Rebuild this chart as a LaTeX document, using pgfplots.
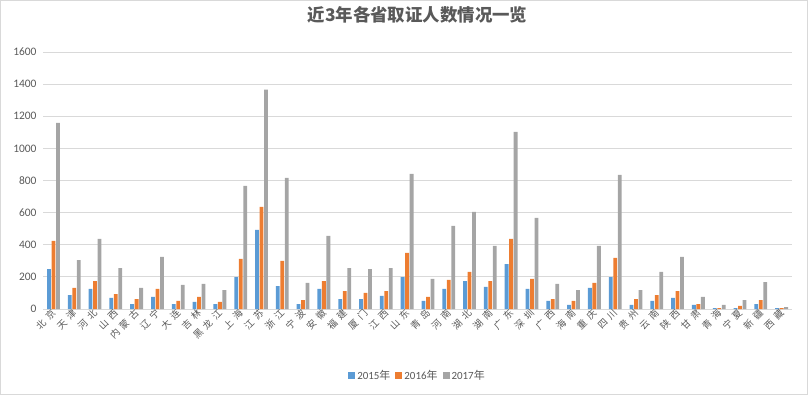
\documentclass[border=0pt]{standalone}
\usepackage{fontspec}
\setmainfont{Carlito}
\newfontfamily\cjk{Noto Sans CJK SC}
\newfontfamily\cjkx{Noto Sans CJK SC}[LetterSpace=40]
\usepackage{pgfplots}
\usepackage{pgfplotstable}
\pgfplotsset{compat=1.18}
\definecolor{cA}{HTML}{5B9BD5}
\definecolor{cB}{HTML}{ED7D31}
\definecolor{cC}{HTML}{A5A5A5}
\definecolor{gridc}{HTML}{D9D9D9}
\definecolor{txt}{HTML}{595959}
\pgfplotstableread{
x a b c
0 249 424 1159
1 87 131 305
2 125 174 436
3 69 93 255
4 31 62 131
5 75 125 324
6 31 50 150
7 44 75 156
8 31 44 118
9 199 312 766
10 492 636 1365
11 143 299 816
12 31 56 162
13 125 174 455
14 62 112 255
15 62 100 249
16 81 112 255
17 199 349 841
18 50 75 187
19 125 181 517
20 174 231 604
21 137 174 393
22 280 436 1103
23 125 187 567
24 50 62 156
25 25 50 118
26 131 162 393
27 199 318 835
28 25 62 118
29 50 87 231
30 69 112 324
31 25 31 75
32 6 6 25
33 6 19 56
34 31 56 168
35 6 6 12
}\data
\begin{document}
\begin{tikzpicture}[x=1bp,y=1bp]
\useasboundingbox (0,0) rectangle (808,395);
\draw[color=gridc] (0.5,0.5) rectangle (807.5,394.5);
\begin{axis}[
  at={(43bp,86bp)}, anchor=south west,
  scale only axis, width=749bp, height=257bp,
  ybar=0.7bp, bar width=3.8bp,
  ymin=0, ymax=1600, ytick={0,200,...,1600},
  xmin=-0.5, xmax=35.5, enlargelimits=false,
  xtick=data,
  xticklabels={北京,天津,河北,山西,内蒙古,辽宁,大连,吉林,黑龙江,上海,江苏,浙江,宁波,安徽,福建,厦门,江西,山东,青岛,河南,湖北,湖南,广东,深圳,广西,海南,重庆,四川,贵州,云南,陕西,甘肃,青海,宁夏,新疆,西藏},
  xticklabel style={font=\cjkx\fontsize{9.5}{10}\selectfont, rotate=45, anchor=east, text=txt, yshift=-2bp, xshift=2bp},
  /pgf/number format/assume math mode=true,
  /pgf/number format/1000 sep={},
  yticklabel style={font=\fontsize{11.5}{12}\selectfont, text=txt, xshift=-3bp},
  major tick length=0pt,
  axis x line*=bottom, axis y line*=left,
  x axis line style={color=gridc, -},
  y axis line style={draw=none},
  ymajorgrids, grid style={color=gridc, line width=0.8bp},
  title={\cjk 近3年各省取证人数情况一览},
  title style={font=\fontsize{17.5}{19}\selectfont\bfseries, text=txt, at={(0.5,1)}, anchor=center, yshift=31bp},
  legend style={draw=none, legend columns=3, at={(0.5,-0.26)}, anchor=center,
    font=\fontsize{11}{12}\selectfont, text=txt,
    /tikz/every even column/.append style={column sep=3bp}},
  legend image code/.code={\fill[#1] (0bp,-3.5bp) rectangle (7bp,3.5bp);},
]
\addplot[fill=cA, draw=none] table[x=x, y=a] {\data};
\addplot[fill=cB, draw=none] table[x=x, y=b] {\data};
\addplot[fill=cC, draw=none] table[x=x, y=c] {\data};
\legend{2015{\cjk 年},2016{\cjk 年},2017{\cjk 年}}
\end{axis}
\end{tikzpicture}
\end{document}
